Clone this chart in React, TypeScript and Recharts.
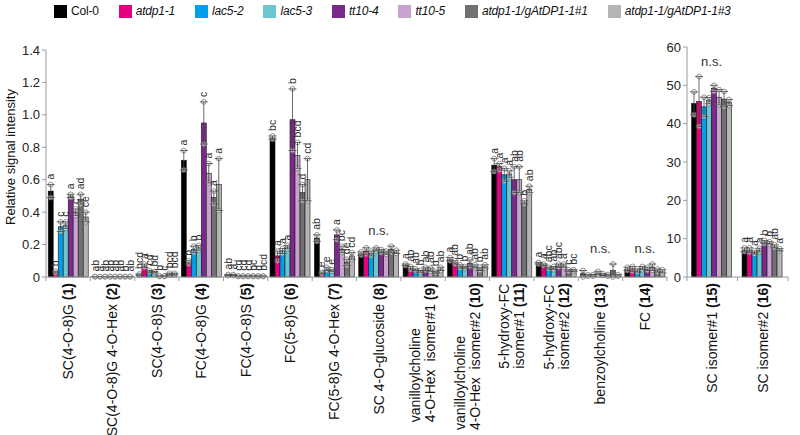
import React, { useLayoutEffect, useRef, useState } from "react";
import { Bar, BarChart, ErrorBar, XAxis, YAxis } from "recharts";

const FONT = '"Liberation Sans", Arial, sans-serif';

const genotypes = [
  "Col-0",
  "atdp1-1",
  "lac5-2",
  "lac5-3",
  "tt10-4",
  "tt10-5",
  "atdp1-1/gAtDP1-1#1",
  "atdp1-1/gAtDP1-1#3",
];
const colors = ["#000000", "#e4007f", "#00a0e9", "#6cc6d0", "#7b2a8c", "#c9a3cf", "#717171", "#b5b5b5"];

const leftCategories = [
  "SC(4-O-8)G",
  "SC(4-O-8)G 4-O-Hex",
  "SC(4-O-8)S",
  "FC(4-O-8)G",
  "FC(4-O-8)S",
  "FC(5-8)G",
  "FC(5-8)G 4-O-Hex",
  "SC 4-O-glucoside",
  "vanilloylcholine\n4-O-Hex  isomer#1",
  "vanilloylcholine\n4-O-Hex  isomer#2",
  "5-hydroxy-FC\nisomer#1",
  "5-hydroxy-FC\nisomer#2",
  "benzoylcholine",
  "FC",
];
const rightCategories = ["SC isomer#1", "SC isomer#2"];

// means per genotype, categories (1)-(14)
const col0Left = [0.53, 0.002, 0.015, 0.72, 0.012, 0.86, 0.24, 0.145, 0.075, 0.11, 0.69, 0.085, 0.02, 0.05];
const atdp1Left = [0.03, 0.002, 0.07, 0.09, 0.012, 0.13, 0.025, 0.16, 0.055, 0.09, 0.68, 0.075, 0.01, 0.05];
const lac52Left = [0.31, 0.002, 0.035, 0.17, 0.005, 0.16, 0.05, 0.145, 0.045, 0.065, 0.63, 0.055, 0.01, 0.04];
const lac53Left = [0.32, 0.002, 0.03, 0.18, 0.005, 0.185, 0.04, 0.17, 0.035, 0.06, 0.635, 0.055, 0.025, 0.055];
const tt104Left = [0.5, 0.002, 0.005, 0.95, 0.005, 0.97, 0.26, 0.16, 0.05, 0.085, 0.6, 0.07, 0.015, 0.05];
const tt105Left = [0.4, 0.002, 0.005, 0.64, 0.005, 0.75, 0.17, 0.15, 0.045, 0.065, 0.6, 0.07, 0.01, 0.06];
const comp1Left = [0.48, 0.002, 0.018, 0.49, 0.005, 0.52, 0.09, 0.17, 0.03, 0.05, 0.46, 0.04, 0.04, 0.04];
const comp3Left = [0.37, 0.002, 0.018, 0.57, 0.005, 0.6, 0.13, 0.155, 0.05, 0.065, 0.54, 0.04, 0.01, 0.035];

// standard errors
const col0LeftErr = [0.04, 0.001, 0.004, 0.06, 0.003, 0.01, 0.02, 0.01, 0.005, 0.01, 0.04, 0.005, 0.02, 0.01];
const atdp1LeftErr = [0.005, 0.001, 0.01, 0.01, 0.003, 0.03, 0.005, 0.02, 0.01, 0.01, 0.02, 0.005, 0.005, 0.015];
const lac52LeftErr = [0.03, 0.001, 0.005, 0.02, 0.002, 0.015, 0.01, 0.015, 0.005, 0.01, 0.04, 0.005, 0.005, 0.01];
const lac53LeftErr = [0.02, 0.001, 0.004, 0.015, 0.002, 0.01, 0.005, 0.01, 0.005, 0.005, 0.02, 0.01, 0.01, 0.01];
const tt104LeftErr = [0.01, 0.001, 0.002, 0.13, 0.002, 0.19, 0.03, 0.01, 0.01, 0.02, 0.08, 0.01, 0.005, 0.01];
const tt105LeftErr = [0.02, 0.001, 0.002, 0.06, 0.002, 0.08, 0.02, 0.01, 0.01, 0.01, 0.08, 0.01, 0.005, 0.02];
const comp1LeftErr = [0.03, 0.001, 0.005, 0.04, 0.002, 0.05, 0.02, 0.02, 0.005, 0.01, 0.01, 0.005, 0.04, 0.01];
const comp3LeftErr = [0.03, 0.001, 0.005, 0.16, 0.002, 0.13, 0.02, 0.01, 0.01, 0.01, 0.02, 0.005, 0.005, 0.01];

const leftLetters = [
  "a b c c a c ad ce",
  "ab a ab ab ab ab b ab",
  "bcd a cd bd b c bcd bcd",
  "a b b b c a a a",
  "ab a cd cd cd bc d bcd",
  "bc a a a b bcd d cd",
  "ab e e e a bc de cd",
  "n.s.",
  "a ab ab b ab ab b ab",
  "a ab b b ab ab b ab",
  "a a a a ab ab b ab",
  "a a abc ab abc a c bc",
  "n.s.",
  "n.s.",
];

// categories (15), (16)
const col0Right = [45.3, 7.1];
const atdp1Right = [45.8, 7.0];
const lac52Right = [44.4, 6.4];
const lac53Right = [46.0, 7.0];
const tt104Right = [49.2, 9.1];
const tt105Right = [46.9, 8.9];
const comp1Right = [46.4, 8.0];
const comp3Right = [45.5, 7.1];

const col0RightErr = [3.0, 0.5];
const atdp1RightErr = [6.5, 0.6];
const lac52RightErr = [2.5, 0.4];
const lac53RightErr = [0.8, 0.5];
const tt104RightErr = [0.8, 0.4];
const tt105RightErr = [2.0, 0.3];
const comp1RightErr = [2.0, 0.4];
const comp3RightErr = [0.8, 0.3];

const rightLetters = ["n.s.", "a a a a b b ab a"];

const leftTicks = [0, 0.2, 0.4, 0.6, 0.8, 1.0, 1.2, 1.4];
const rightTicks = [0, 10, 20, 30, 40, 50, 60];

type Row = Record<string, any>;

function buildRows(cats: string[], means: number[][], errs: number[][], letters: string[], firstNo: number): Row[] {
  return cats.map((name, ci) => {
    const row: Row = { name, no: firstNo + ci, ns: letters[ci] === "n.s.", letters: letters[ci].split(" ") };
    means.forEach((m, gi) => {
      row[`v${gi}`] = m[ci];
      row[`e${gi}`] = errs[gi][ci];
    });
    return row;
  });
}

const leftRows = buildRows(
  leftCategories,
  [col0Left, atdp1Left, lac52Left, lac53Left, tt104Left, tt105Left, comp1Left, comp3Left],
  [col0LeftErr, atdp1LeftErr, lac52LeftErr, lac53LeftErr, tt104LeftErr, tt105LeftErr, comp1LeftErr, comp3LeftErr],
  leftLetters,
  1
);
const rightRows = buildRows(
  rightCategories,
  [col0Right, atdp1Right, lac52Right, lac53Right, tt104Right, tt105Right, comp1Right, comp3Right],
  [col0RightErr, atdp1RightErr, lac52RightErr, lac53RightErr, tt104RightErr, tt105RightErr, comp1RightErr, comp3RightErr],
  rightLetters,
  15
);

function CategoryTick(props: any) {
  const { x, y, index, rows, band } = props;
  const row = rows[index];
  const lines: string[] = row.name.split("\n");
  const ref = useRef<SVGTextElement>(null);
  const [w, setW] = useState(0);
  useLayoutEffect(() => {
    if (ref.current) setW(ref.current.getComputedTextLength());
  }, []);
  const last = lines[lines.length - 1];
  const tickStyle = { stroke: "#9a9a9a", strokeWidth: 1 };
  return (
    <g>
      <line x1={x - band / 2} x2={x - band / 2} y1={y} y2={y + 4} {...tickStyle} />
      {index === rows.length - 1 && <line x1={x + band / 2} x2={x + band / 2} y1={y} y2={y + 4} {...tickStyle} />}
      <g transform={`translate(${x},${y + 6}) rotate(-90)`} fontFamily={FONT} fontSize={14} fill="#111">
        {lines.length > 1 && (
          <text x={-w} y={-7.5} dy="0.35em" textAnchor="start" style={{ whiteSpace: "pre" }}>
            {lines[0]}
          </text>
        )}
        <text ref={ref} x={0} y={lines.length > 1 ? 7.5 : 0} dy="0.35em" textAnchor="end" style={{ whiteSpace: "pre" }}>
          {last} <tspan fontWeight="bold">({row.no})</tspan>
        </text>
      </g>
    </g>
  );
}

const makeShape = (gi: number, yMax: number, plotH: number) => (props: any) => {
  const { x, y, width, height, payload, fill, background } = props;
  const v = payload[`v${gi}`];
  const e = payload[`e${gi}`];
  const base = y + height;
  const per = (background && background.height ? background.height : plotH) / yMax;
  const cx = x + width / 2;
  const topY = base - (v + e) * per;
  const lowY = base - Math.max(v - e, 0) * per;
  let ns = null;
  if (payload.ns && gi === 4) {
    let maxTop = 0;
    for (let k = 0; k < 8; k++) maxTop = Math.max(maxTop, payload[`v${k}`] + payload[`e${k}`]);
    ns = (
      <text x={x} y={base - maxTop * per - 11} textAnchor="middle" fontFamily={FONT} fontSize={13} fill="#333">
        n.s.
      </text>
    );
  }
  return (
    <g>
      <rect x={x} y={y} width={width} height={Math.max(height, 0)} fill={fill} stroke="#1a1a1a" strokeWidth={0.6} />
      <circle cx={cx} cy={lowY} r={2.4} fill="#ffffff" fillOpacity={0.55} stroke="#777" strokeWidth={0.8} />
      <circle cx={cx} cy={topY} r={2.4} fill="#ffffff" fillOpacity={0.55} stroke="#777" strokeWidth={0.8} />
      {!payload.ns && (
        <text
          transform={`translate(${cx + 3.5},${topY - 5}) rotate(-90)`}
          textAnchor="start"
          fontFamily={FONT}
          fontSize={10.5}
          fill="#333"
        >
          {payload.letters[gi]}
        </text>
      )}
      {ns}
    </g>
  );
};

function Panel(props: {
  rows: Row[];
  width: number;
  margin: { top: number; right: number; left: number; bottom: number };
  yMax: number;
  ticks: number[];
  gap: string;
}) {
  const { rows, width, margin, yMax, ticks, gap } = props;
  const height = 435;
  const xAxisH = 158;
  const yAxisW = 40;
  const plotH = height - margin.top - xAxisH;
  const band = (width - margin.left - margin.right - yAxisW) / rows.length;
  return (
    <BarChart width={width} height={height} data={rows} margin={margin} barCategoryGap={gap} barGap={0}>
      <XAxis
        dataKey="name"
        height={xAxisH}
        interval={0}
        tickLine={false}
        tickSize={0}
        tickMargin={0}
        axisLine={{ stroke: "#9a9a9a" }}
        tick={(p: any) => <CategoryTick {...p} rows={rows} band={band} />}
      />
      <YAxis
        width={yAxisW}
        domain={[0, yMax]}
        ticks={ticks}
        interval={0}
        tickSize={4}
        tickMargin={2}
        axisLine={{ stroke: "#9a9a9a" }}
        tickLine={{ stroke: "#9a9a9a" }}
        tick={{ fontFamily: FONT, fontSize: 13, fill: "#222" }}
        tickFormatter={(v: number) => (v === 0 ? "0" : yMax < 10 ? v.toFixed(1) : String(v))}
      />
      {genotypes.map((g, gi) => (
        <Bar
          key={g}
          dataKey={`v${gi}`}
          name={g}
          fill={colors[gi]}
          isAnimationActive={false}
          shape={makeShape(gi, yMax, plotH)}
        >
          <ErrorBar dataKey={`e${gi}`} width={4} stroke="#444" strokeWidth={0.8} isAnimationActive={false} />
        </Bar>
      ))}
    </BarChart>
  );
}

function LegendRow() {
  return (
    <div
      style={{
        position: "absolute",
        left: 54,
        top: 4,
        display: "flex",
        alignItems: "center",
        gap: 20,
        fontFamily: FONT,
        fontSize: 12,
        letterSpacing: -0.2,
        color: "#111",
        whiteSpace: "nowrap",
      }}
    >
      {genotypes.map((g, gi) => (
        <div key={g} style={{ display: "flex", alignItems: "center", gap: 4 }}>
          <span style={{ display: "inline-block", width: 13, height: 13, background: colors[gi] }} />
          <span style={{ fontStyle: gi === 0 ? "normal" : "italic" }}>{g}</span>
        </div>
      ))}
    </div>
  );
}

export default function App() {
  return (
    <div style={{ position: "relative", width: 800, height: 435, background: "#fff", overflow: "hidden" }}>
      <style>{"body{margin:0}"}</style>
      <LegendRow />
      <div
        style={{
          position: "absolute",
          left: 10,
          top: 157,
          transform: "translate(-50%,-50%) rotate(-90deg)",
          fontFamily: FONT,
          fontSize: 13,
          color: "#111",
          whiteSpace: "nowrap",
        }}
      >
        Relative signal intensity
      </div>
      <div style={{ position: "absolute", left: 0, top: 0 }}>
        <Panel
          rows={leftRows}
          width={680}
          margin={{ top: 50, right: 13, left: 6, bottom: 0 }}
          yMax={1.4}
          ticks={leftTicks}
          gap="5%"
        />
      </div>
      <div style={{ position: "absolute", left: 640, top: 0 }}>
        <Panel
          rows={rightRows}
          width={160}
          margin={{ top: 47, right: 12, left: 7, bottom: 0 }}
          yMax={60}
          ticks={rightTicks}
          gap="9%"
        />
      </div>
    </div>
  );
}
